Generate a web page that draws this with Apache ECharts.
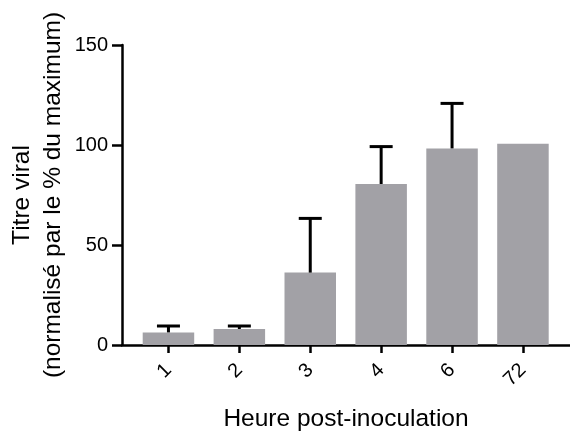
<!DOCTYPE html>
<html>
<head>
<meta charset="utf-8">
<script src="https://cdn.jsdelivr.net/npm/echarts@6/dist/echarts.min.js"></script>
<style>
  html, body { margin: 0; padding: 0; background: #fff; }
  #chart { width: 570px; height: 432px; }
</style>
</head>
<body>
<div id="chart"></div>
<script>
// heures post-inoculation
const heures = ['1', '2', '3', '4', '6', '72'];
// titre viral moyen (% du maximum)
const titreMoyen = [6.3, 8, 36.2, 80.5, 98.3, 100.6];
// haut de la barre d'erreur (null = pas de barre)
const erreurHaute = [9.5, 9.5, 63.3, 99.2, 120.8, null];

const yTicks = { min: 0, max: 150, interval: 50 };

const font = 'Arial, "Liberation Sans", Helvetica, sans-serif';
const chart = echarts.init(document.getElementById('chart'));

const erreurData = heures.map(function (h, i) {
  return [i, titreMoyen[i], erreurHaute[i]];
});

const option = {
  backgroundColor: '#fff',
  animation: false,
  textStyle: { fontFamily: font, color: '#000' },
  grid: [
    { left: 133, right: 11.6, top: 45, bottom: 87, outerBoundsMode: 'none', containLabel: false },
    { left: 122, right: 0, top: 45, bottom: 87, outerBoundsMode: 'none', containLabel: false }
  ],
  xAxis: [
    {
      type: 'category',
      gridIndex: 0,
      data: heures,
      axisLine: { show: false },
      axisTick: {
        show: true,
        alignWithLabel: true,
        length: 8,
        lineStyle: { color: '#000', width: 2.5 }
      },
      axisLabel: {
        rotate: 45,
        fontSize: 20,
        margin: 22,
        color: '#000',
        fontFamily: font
      },
      splitLine: { show: false }
    },
    {
      // ligne de l'axe X qui part de l'axe Y
      type: 'value',
      gridIndex: 1,
      min: 0,
      max: 1,
      axisLine: { show: true, lineStyle: { color: '#000', width: 2.5 } },
      axisTick: { show: false },
      axisLabel: { show: false },
      splitLine: { show: false },
      name: 'Heure post-inoculation',
      nameLocation: 'middle',
      nameGap: 62,
      nameMoveOverlap: false,
      nameTextStyle: { fontSize: 24.5, color: '#000', fontFamily: font }
    }
  ],
  yAxis: [
    {
      type: 'value',
      gridIndex: 0,
      min: yTicks.min,
      max: yTicks.max,
      interval: yTicks.interval,
      offset: 11,
      axisLine: { show: true, lineStyle: { color: '#000', width: 2.5 } },
      axisTick: { show: true, length: 10, lineStyle: { color: '#000', width: 2.5 } },
      axisLabel: { fontSize: 20, margin: 14, color: '#000', fontFamily: font },
      splitLine: { show: false },
      name: 'Titre viral\n(normalisé par le % du maximum)',
      nameLocation: 'middle',
      nameGap: 53,
      nameMoveOverlap: false,
      nameTextStyle: { fontSize: 24.5, lineHeight: 31, color: '#000', fontFamily: font, align: 'center' }
    },
    {
      type: 'value',
      gridIndex: 1,
      min: yTicks.min,
      max: yTicks.max,
      show: false
    }
  ],
  series: [
    {
      type: 'bar',
      xAxisIndex: 0,
      yAxisIndex: 0,
      data: titreMoyen,
      barWidth: 51.5,
      itemStyle: { color: '#a2a1a6' }
    },
    {
      type: 'custom',
      xAxisIndex: 0,
      yAxisIndex: 0,
      data: erreurData,
      encode: { x: 0, y: [1, 2] },
      z: 3,
      renderItem: function (params, api) {
        const haut = api.value(2);
        if (haut == null || isNaN(haut)) return null;
        const base = api.coord([api.value(0), api.value(1)]);
        const top = api.coord([api.value(0), haut]);
        const demi = 11.5;
        const style = { stroke: '#000', lineWidth: 3, fill: null };
        return {
          type: 'group',
          children: [
            { type: 'line', shape: { x1: base[0], y1: base[1], x2: top[0], y2: top[1] }, style: style },
            { type: 'line', shape: { x1: top[0] - demi, y1: top[1], x2: top[0] + demi, y2: top[1] }, style: style }
          ]
        };
      }
    }
  ]
};

chart.setOption(option);
</script>
</body>
</html>
